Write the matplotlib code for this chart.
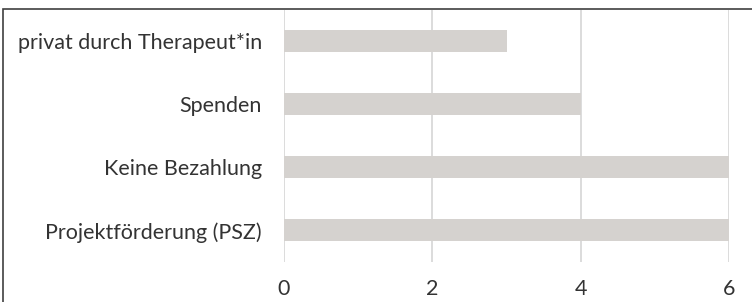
import matplotlib.pyplot as plt
from matplotlib.patches import Rectangle

categories = ["Projektförderung (PSZ)", "Keine Bezahlung", "Spenden", "privat durch Therapeut*in"]
values = [6, 6, 4, 3]
xticks = [0, 2, 4, 6]

plt.rcParams['font.family'] = ['Lato', 'DejaVu Sans']

fig = plt.figure(figsize=(7.52, 3.02), dpi=100)
ax = fig.add_axes([284/752, 1-262/302, (729-284)/752, (262-9.5)/302])

ax.barh(categories, values, height=0.35, color="#d5d2cf", zorder=2)
ax.set_xlim(0, 6)
ax.set_ylim(-0.5, 3.5)
ax.set_xticks(xticks)
ax.xaxis.grid(True, color="#d9d9d9", linewidth=1.3, zorder=0)
for s in ax.spines.values():
    s.set_visible(False)
ax.tick_params(axis="both", length=0, labelsize=15.5, labelcolor="#333333")
ax.tick_params(axis="x", pad=12)
ax.tick_params(axis="y", pad=16)

# outer frame, cut off at the right and bottom
fig.patches.append(Rectangle((3/752, -0.1), 1.2, 1 - 9/302 + 0.1, transform=fig.transFigure,
                             fill=False, edgecolor="#404040", linewidth=1.2))

fig.savefig("out.png", dpi=100)
